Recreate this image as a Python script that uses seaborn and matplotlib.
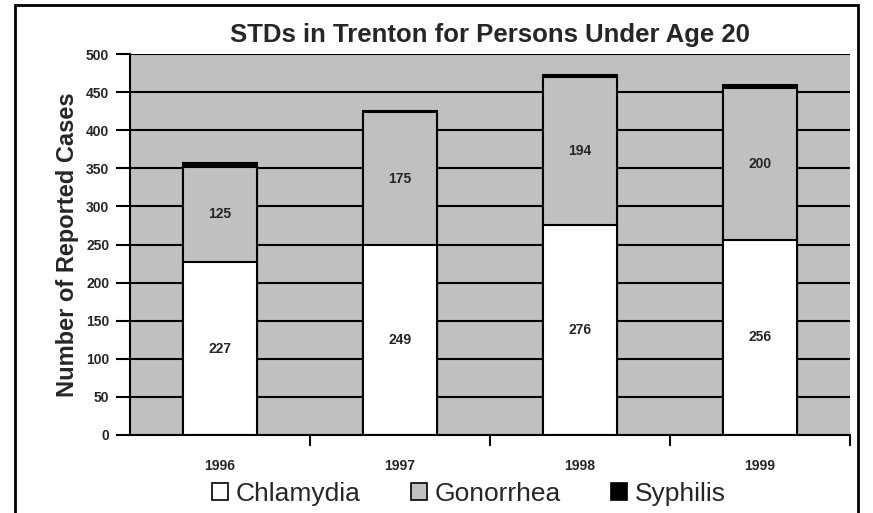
import matplotlib
matplotlib.use("Agg")
import matplotlib.pyplot as plt
import seaborn as sns
import pandas as pd
import numpy as np
from matplotlib.patches import Patch, Rectangle

years = ["1996", "1997", "1998", "1999"]
chlamydia = [227, 249, 276, 256]
gonorrhea = [125, 175, 194, 200]
syphilis = [5, 1, 3, 3]
series_names = ["Chlamydia", "Gonorrhea", "Syphilis"]
y_ticks = [0, 50, 100, 150, 200, 250, 300, 350, 400, 450, 500]

sns.set_theme(style="white")
plt.rcParams["font.family"] = ["Liberation Sans", "DejaVu Sans"]

df = pd.DataFrame({"year": years, "chl": chlamydia, "gon": gonorrhea, "syp": syphilis})
df["cg"] = df["chl"] + df["gon"]
df["total"] = df["cg"] + df["syp"]

fig = plt.figure(figsize=(8.73, 5.13), dpi=100)
ax = fig.add_axes([130 / 873, 1 - 435 / 513, 720 / 873, 381 / 513])
ax.set_facecolor("#C0C0C0")

ax.set_axisbelow(True)
ax.yaxis.grid(True, color="black", linewidth=1.5)

kw = dict(width=0.41, edgecolor="black", linewidth=1.5, ax=ax, order=years, saturation=1)
sns.barplot(data=df, x="year", y="total", color="black", **kw)
sns.barplot(data=df, x="year", y="cg", color="#C0C0C0", **kw)
sns.barplot(data=df, x="year", y="chl", color="white", **kw)

# value labels
for i, (c, g) in enumerate(zip(chlamydia, gonorrhea)):
    ax.text(i, c / 2, str(c), ha="center", va="center", fontsize=10, fontweight="bold")
    ax.text(i, c + g / 2, str(g), ha="center", va="center", fontsize=10, fontweight="bold")

ax.set_xlim(-0.5, 3.5)
ax.set_ylim(0, 500)
ax.set_yticks(y_ticks)
ax.set_yticklabels([str(v) for v in y_ticks], fontsize=10, fontweight="bold")
ax.tick_params(axis="y", length=10, width=1.5, color="black", direction="out", left=True, pad=5)
ax.set_xticks(range(len(years)))
ax.set_xticklabels(years, fontsize=10, fontweight="bold")
ax.tick_params(axis="x", which="major", length=0, pad=17)
ax.set_xticks([0.5, 1.5, 2.5, 3.5], minor=True)
ax.tick_params(axis="x", which="minor", length=8, width=1.5, color="black", direction="out", bottom=True)

for s in ["top", "right"]:
    ax.spines[s].set_visible(False)
for s in ["left", "bottom"]:
    ax.spines[s].set_visible(True)
    ax.spines[s].set_color("black")
    ax.spines[s].set_linewidth(1.5)

ax.set_xlabel("")
ax.set_ylabel("Number of Reported Cases", fontsize=17, fontweight="bold", labelpad=5)

fig.suptitle("STDs in Trenton for Persons Under Age 20", x=490 / 873, y=1 - 35 / 513,
             va="center", fontsize=18.5, fontweight="bold")

handles = [Patch(facecolor=c, edgecolor="black", linewidth=1.2) for c in ["white", "#C0C0C0", "black"]]
leg = fig.legend(handles, series_names, loc="center", bbox_to_anchor=(469 / 873, 1 - 494 / 513),
                 ncol=3, frameon=False, fontsize=19, handlelength=0.6, handleheight=0.6,
                 handletextpad=0.3, columnspacing=1.9, borderpad=0)

fig.add_artist(Rectangle((15 / 873, -0.05), (858 - 15) / 873, 1.05 - 5 / 513,
                         transform=fig.transFigure, fill=False, edgecolor="black", linewidth=2))

fig.savefig("out.png", dpi=100)
